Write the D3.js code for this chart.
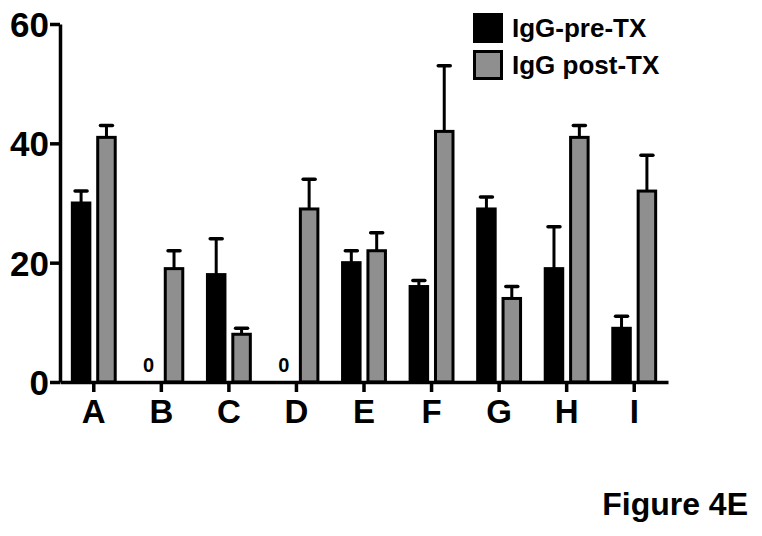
<!DOCTYPE html>
<html>
<head>
<meta charset="utf-8">
<script src="https://cdn.jsdelivr.net/npm/d3@7"></script>
<style>
  body { margin: 0; background: #fff; }
  text { font-family: "Liberation Sans", Arial, sans-serif; font-weight: bold; fill: #000; }
</style>
</head>
<body>
<div id="chart"></div>
<script>
// data
const categories = ["A", "B", "C", "D", "E", "F", "G", "H", "I"];
const seriesNames = ["IgG-pre-TX", "IgG post-TX"];
const preValues = [30, 0, 18, 0, 20, 16, 29, 19, 9];
const preErrTop = [32, 0, 24, 0, 22, 17, 31, 26, 11];
const postValues = [41, 19, 8, 29, 22, 42, 14, 41, 32];
const postErrTop = [43, 22, 9, 34, 25, 53, 16, 43, 38];
const yTicks = [0, 20, 40, 60];

const width = 762, height = 536;
const fills = { pre: "#000000", post: "#8f8f8f" };

const svg = d3.select("#chart").append("svg")
  .attr("width", width)
  .attr("height", height);

const x = d3.scaleBand().domain(categories).range([60, 668]).padding(0);
const xs = d3.scaleBand().domain(["pre", "post"]).range([0, x.bandwidth()])
  .paddingInner(0.31).paddingOuter(0.486);
const y = d3.scaleLinear().domain([0, 60]).range([382, 24]);

const rows = categories.map((c, i) => ({
  cat: c,
  bars: [
    { key: "pre", v: preValues[i], e: preErrTop[i] },
    { key: "post", v: postValues[i], e: postErrTop[i] }
  ]
}));

// bars
const groups = svg.append("g").selectAll("g")
  .data(rows)
  .join("g")
  .attr("transform", d => `translate(${x(d.cat)},0)`);

const bar = groups.selectAll("g")
  .data(d => d.bars)
  .join("g");

bar.filter(d => d.v > 0).append("rect")
  .attr("x", d => xs(d.key))
  .attr("y", d => y(d.v))
  .attr("width", xs.bandwidth())
  .attr("height", d => y(0) - y(d.v))
  .attr("fill", d => fills[d.key])
  .attr("stroke", "#000")
  .attr("stroke-width", 3);

// error bars (upper only)
const eb = bar.filter(d => d.e > d.v);
eb.append("line")
  .attr("x1", d => xs(d.key) + xs.bandwidth() / 2)
  .attr("x2", d => xs(d.key) + xs.bandwidth() / 2)
  .attr("y1", d => y(d.v))
  .attr("y2", d => y(d.e))
  .attr("stroke", "#000")
  .attr("stroke-width", 3);
eb.append("line")
  .attr("x1", d => xs(d.key) + xs.bandwidth() / 2 - 6)
  .attr("x2", d => xs(d.key) + xs.bandwidth() / 2 + 6)
  .attr("y1", d => y(d.e))
  .attr("y2", d => y(d.e))
  .attr("stroke", "#000")
  .attr("stroke-width", 3.5)
  .attr("stroke-linecap", "round");

// "0" markers for empty bars
bar.filter(d => d.v === 0).append("text")
  .attr("x", d => xs(d.key) + xs.bandwidth() / 2)
  .attr("y", y(0) - 10.5)
  .attr("text-anchor", "middle")
  .attr("font-size", 20)
  .text("0");

// axes
const yAxis = svg.append("g")
  .attr("transform", "translate(60,0)")
  .call(d3.axisLeft(y).tickValues(yTicks).tickSize(10).tickSizeOuter(0).tickPadding(1));
yAxis.selectAll("text").attr("font-size", 35).attr("dy", "0.36em");

const xAxis = svg.append("g")
  .attr("transform", `translate(0,${y(0)})`)
  .call(d3.axisBottom(x).tickSize(10).tickSizeOuter(0).tickPadding(8));
xAxis.selectAll("text").attr("font-size", 33);

svg.selectAll(".domain").attr("stroke", "#000").attr("stroke-width", 3.5);
svg.selectAll(".tick line").attr("stroke", "#000").attr("stroke-width", 3.5);
svg.selectAll(".tick text").attr("font-family", null).style("fill", "#000");

// legend
const legend = svg.append("g").selectAll("g")
  .data(seriesNames)
  .join("g")
  .attr("transform", (d, i) => `translate(474.5,${14.5 + i * 37})`);
legend.append("rect")
  .attr("width", 27)
  .attr("height", 27)
  .attr("fill", (d, i) => i === 0 ? fills.pre : fills.post)
  .attr("stroke", "#000")
  .attr("stroke-width", 3);
legend.append("text")
  .attr("x", 37.5)
  .attr("y", 22)
  .attr("font-size", 26)
  .text(d => d);

// caption
svg.append("text")
  .attr("x", 748)
  .attr("y", 515)
  .attr("text-anchor", "end")
  .attr("font-size", 32)
  .text("Figure 4E");
</script>
</body>
</html>
